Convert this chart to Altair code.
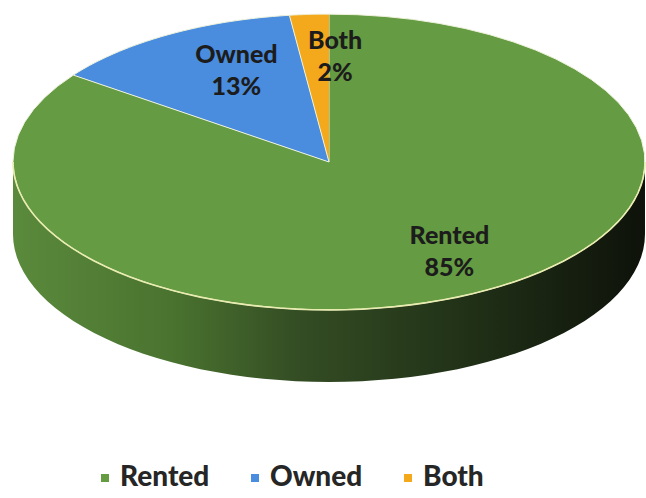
import altair as alt
import pandas as pd

# Survey answers: share of premises by tenure
categories = ["Rented", "Owned", "Both"]
shares = [85, 13, 2]
colors = ["#659b42", "#4a8ddf", "#f4a91d"]

TILT = 0.468      # vertical squash of the pie disc
DEPTH = 0.228     # thickness of the disc
STEPS = 60
LABEL_R = 0.7

pie = pd.DataFrame({"category": categories, "value": shares})

x_scale = alt.Scale(domain=[-1.0411, 1.0032], nice=False, zero=False)
y_scale = alt.Scale(domain=[-1.0633, 0.5127], nice=False, zero=False)
X = lambda f: alt.X(f, type="quantitative", scale=x_scale, axis=None)
Y = lambda f: alt.Y(f, type="quantitative", scale=y_scale, axis=None)

# Front wall of the disc (lower half of the ellipse pushed down by DEPTH)
front = alt.sequence(0, STEPS + 1, as_="step")
side = (
    alt.Chart(front)
    .transform_calculate(ang=f"PI/2 + PI*datum.step/{STEPS}")
    .transform_calculate(x="sin(datum.ang)", y=f"cos(datum.ang)*{TILT}")
    .transform_calculate(y2=f"datum.y - {DEPTH}")
    .mark_area(
        fill=alt.Gradient(
            gradient="linear",
            x1=0, x2=1, y1=0, y2=0,
            stops=[
                alt.GradientStop(offset=0, color="#5a8a3c"),
                alt.GradientStop(offset=0.25, color="#4a732f"),
                alt.GradientStop(offset=0.45, color="#344d24"),
                alt.GradientStop(offset=0.7, color="#223318"),
                alt.GradientStop(offset=1, color="#0e120a"),
            ],
        ),
        orient="vertical",
    )
    .encode(x=X("x"), y=Y("y"), y2=alt.Y2("y2:Q"))
)

# Rim highlight along the front edge of the top face
rim = (
    alt.Chart(front)
    .transform_calculate(ang=f"PI/2 + PI*datum.step/{STEPS}")
    .transform_calculate(x="sin(datum.ang)", y=f"cos(datum.ang)*{TILT}")
    .mark_line(color="#e9ecb0", strokeWidth=1.6)
    .encode(x=X("x"), y=Y("y"), order=alt.Order("step:Q"))
)

base = (
    alt.Chart(pie)
    .transform_joinaggregate(total="sum(value)")
    .transform_window(cum="sum(value)", frame=[None, 0])
    .transform_calculate(start="datum.cum - datum.value")
)

fill_scale = alt.Scale(domain=categories, range=colors)

# Top face wedges, clockwise from twelve o'clock
wedges = (
    base.transform_calculate(steps=f"sequence(-1, {STEPS + 1})")
    .transform_flatten(["steps"], as_=["step"])
    .transform_calculate(
        ang=f"2*PI*(datum.start + datum.value*datum.step/{STEPS})/datum.total"
    )
    .transform_calculate(
        x="datum.step < 0 ? 0 : sin(datum.ang)",
        y=f"datum.step < 0 ? 0 : cos(datum.ang)*{TILT}",
    )
    .mark_line(stroke="#eef2dc", strokeWidth=1, strokeJoin="round")
    .encode(
        x=X("x"),
        y=Y("y"),
        order=alt.Order("step:Q"),
        fill=alt.Fill(
            "category:N",
            scale=fill_scale,
            legend=alt.Legend(
                title=None,
                orient="none",
                direction="horizontal",
                legendX=91,
                legendY=464,
                symbolType="square",
                symbolSize=64,
                symbolStrokeWidth=0,
                symbolOpacity=1,
                labelFont="Lato",
                labelFontSize=28,
                labelFontWeight=900,
                labelColor="#262626",
                labelOffset=1,
                columnPadding=31,
                padding=0,
            ),
        ),
    )
)

labels = (
    base.transform_calculate(
        mid="2*PI*(datum.start + datum.value/2)/datum.total",
        text="datum.category + '\\n' + datum.value + '%'",
    )
    .transform_calculate(
        x=f"{LABEL_R}*sin(datum.mid)",
        y=f"{LABEL_R}*cos(datum.mid)*{TILT}",
    )
    .mark_text(
        font="Lato",
        fontSize=25,
        fontWeight=900,
        color="#1c1c1c",
        lineBreak="\n",
        lineHeight=32,
        align="center",
        baseline="middle",
        dx=20,
        dy=-18,
    )
    .encode(x=X("x"), y=Y("y"), text="text:N")
)

chart = (
    alt.layer(side, wedges, rim, labels)
    .properties(width=646, height=498, padding=0, autosize="none", background="white")
    .configure_view(stroke=None)
)

chart.save("out.html", embed_options={"renderer": "svg", "actions": False})
